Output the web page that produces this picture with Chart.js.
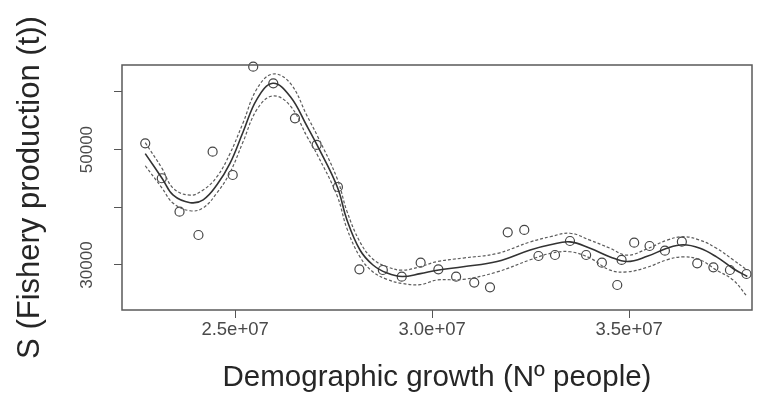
<!DOCTYPE html>
<html>
  <head>
    <meta charset="utf-8"/>
    <style type="text/css">
      body {
        margin: 0px;
        padding: 0px;
        background: #ffffff;
      }
      #wrap {
        width: 777px;
        height: 419px;
      }
    </style>
  </head>
  <body>
    <div id="wrap"><canvas id="chart" width="777" height="419"></canvas></div>
    <script src="https://cdn.jsdelivr.net/npm/chart.js@4.4.1/dist/chart.umd.min.js"></script>
    <script>
      // observed points (population, fishery production in t)
      var obsX = [2.272e7, 2.314e7, 2.359e7, 2.407e7, 2.443e7, 2.494e7, 2.546e7, 2.597e7, 2.652e7, 2.707e7,
                  2.761e7, 2.8155e7, 2.875e7, 2.923e7, 2.971e7, 3.016e7, 3.061e7, 3.107e7, 3.147e7, 3.192e7,
                  3.234e7, 3.270e7, 3.312e7, 3.350e7, 3.391e7, 3.431e7, 3.470e7, 3.481e7, 3.513e7, 3.552e7,
                  3.591e7, 3.634e7, 3.673e7, 3.714e7, 3.756e7, 3.798e7];
      var obsY = [51090, 45030, 39240, 35200, 49640, 45600, 64370, 61490, 55420, 50800,
                  43520, 29250, 29130, 27980, 30400, 29250, 27980, 26950, 26130, 35660,
                  36070, 31560, 31730, 34160, 31730, 30400, 26530, 30870, 33870, 33290,
                  32480, 34040, 30290, 29600, 29130, 28440];

      // fitted smooth and its confidence band
      var fitX = [2.272e7, 2.315e7, 2.343e7, 2.386e7, 2.419e7, 2.454e7, 2.487e7, 2.520e7, 2.556e7, 2.596e7,
                  2.640e7, 2.683e7, 2.708e7, 2.759e7, 2.784e7, 2.817e7, 2.850e7, 2.886e7, 2.924e7, 2.970e7,
                  3.013e7, 3.079e7, 3.165e7, 3.249e7, 3.300e7, 3.350e7, 3.401e7, 3.452e7, 3.495e7, 3.546e7,
                  3.596e7, 3.637e7, 3.680e7, 3.722e7, 3.764e7, 3.800e7];
      var fitY = [49300, 45000, 42100, 40800, 41300, 43900, 47600, 53000, 58800, 61500,
                  59200, 54000, 50800, 43600, 37800, 32600, 30000, 28600, 28000, 28500,
                  29100, 29700, 30600, 32600, 33500, 34000, 32900, 31400, 30600, 31500,
                  32900, 33500, 32900, 31400, 29400, 28000];
      var upperY = [51200, 46700, 43300, 42100, 43000, 45300, 49300, 54600, 60600, 63100,
                    61500, 55800, 52500, 45000, 39300, 34000, 31000, 29700, 29100, 29700,
                    30600, 31200, 32000, 34000, 34900, 35500, 34300, 32900, 31700, 32800,
                    34300, 34900, 34300, 32900, 30900, 29100];
      var lowerY = [47200, 43300, 40700, 39400, 39900, 42500, 46000, 51300, 57000, 59300,
                    57600, 52200, 49200, 42000, 36300, 31400, 28800, 27500, 26800, 26600,
                    27400, 27500, 28800, 30900, 32000, 32300, 31200, 29100, 28800, 29600,
                    30900, 31400, 30900, 29100, 27400, 24500];

      var xTickValues = [2.5e7, 3.0e7, 3.5e7];
      var xTickLabels = ['2.5e+07', '3.0e+07', '3.5e+07'];
      var yTickValues = [30000, 40000, 50000, 60000];
      var yTickLabels = ['30000', '', '50000', ''];

      function pairs(xs, ys) {
        return xs.map(function(x, i) { return {x: x, y: ys[i]}; });
      }

      // R style box round the plot region
      var boxPlugin = {
        id: 'box',
        afterDraw: function(chart) {
          var a = chart.chartArea, ctx = chart.ctx;
          ctx.save();
          ctx.strokeStyle = '#5a5a5a';
          ctx.lineWidth = 1.5;
          ctx.strokeRect(a.left, a.top, a.right - a.left, a.bottom - a.top);
          ctx.restore();
        }
      };

      var bandStyle = {
        showLine: true,
        borderColor: '#5c5c5c',
        borderWidth: 1.2,
        borderDash: [3, 2],
        pointRadius: 0,
        tension: 0.4,
        fill: false
      };

      new Chart(document.getElementById('chart'), {
        type: 'scatter',
        data: {
          datasets: [
            Object.assign({data: pairs(fitX, upperY)}, bandStyle),
            Object.assign({data: pairs(fitX, lowerY)}, bandStyle),
            {
              data: pairs(fitX, fitY),
              showLine: true,
              borderColor: '#333333',
              borderWidth: 1.6,
              pointRadius: 0,
              tension: 0.4
            },
            {
              data: pairs(obsX, obsY),
              pointStyle: 'circle',
              pointRadius: 4.5,
              borderColor: '#444444',
              borderWidth: 1.2,
              backgroundColor: 'rgba(0,0,0,0)',
              clip: false
            }
          ]
        },
        options: {
          responsive: false,
          animation: false,
          layout: { padding: { top: 65, right: 25, left: 0, bottom: 0 } },
          plugins: {
            legend: { display: false },
            tooltip: { enabled: false }
          },
          scales: {
            x: {
              type: 'linear',
              min: 22130000,
              max: 38120000,
              afterBuildTicks: function(scale) {
                scale.ticks = xTickValues.map(function(v) { return {value: v}; });
              },
              afterFit: function(scale) { scale.height = 109; },
              ticks: {
                maxRotation: 0,
                padding: 1,
                color: '#4a4a4a',
                font: { family: 'Liberation Sans', size: 18.5 },
                callback: function(v) { return xTickLabels[xTickValues.indexOf(v)]; }
              },
              grid: { drawOnChartArea: false, tickLength: 8, color: '#555555' },
              border: { display: false },
              title: {
                display: true,
                text: 'Demographic growth (Nº people)',
                color: '#262626',
                font: { family: 'Liberation Sans', size: 29.5 },
                padding: { top: 0, bottom: 23 }
              }
            },
            y: {
              type: 'linear',
              min: 22200,
              max: 64660,
              afterBuildTicks: function(scale) {
                scale.ticks = yTickValues.map(function(v) { return {value: v}; });
              },
              afterFit: function(scale) { scale.width = 122; },
              ticks: {
                minRotation: 90,
                maxRotation: 90,
                crossAlign: 'center',
                padding: 3,
                color: '#4a4a4a',
                font: { family: 'Liberation Sans', size: 17 },
                callback: function(v) { return yTickLabels[yTickValues.indexOf(v)]; }
              },
              grid: { drawOnChartArea: false, tickLength: 8, color: '#555555' },
              border: { display: false },
              title: {
                display: true,
                text: 'S (Fishery production (t))',
                color: '#262626',
                font: { family: 'Liberation Sans', size: 31 },
                padding: { top: 12, bottom: 0 }
              }
            }
          }
        },
        plugins: [boxPlugin]
      });
    </script>
  </body>
</html>
